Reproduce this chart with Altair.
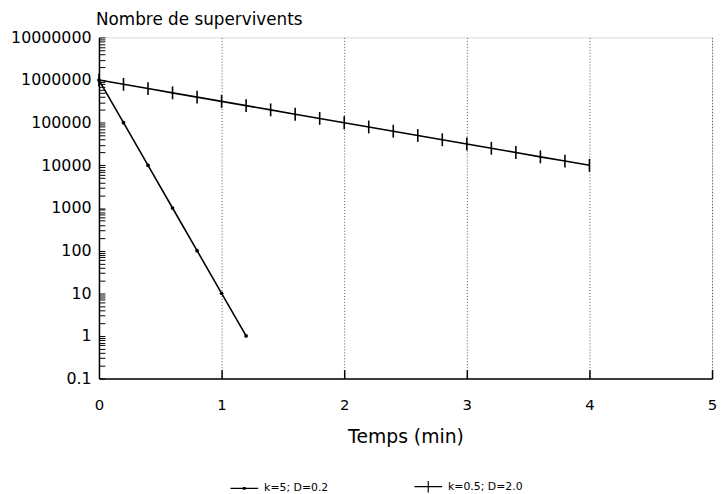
import altair as alt
import pandas as pd

# ---- data ----
serie_names = ["k=5; D=0.2", "k=0.5; D=2.0"]

t1 = [0.0, 0.2, 0.4, 0.6, 0.8, 1.0, 1.2]
n1 = [1000000, 100000, 10000, 1000, 100, 10, 1]

t2 = [0.0, 0.2, 0.4, 0.6, 0.8, 1.0, 1.2, 1.4, 1.6, 1.8, 2.0,
      2.2, 2.4, 2.6, 2.8, 3.0, 3.2, 3.4, 3.6, 3.8, 4.0]
n2 = [1000000, 794000, 631000, 501000, 398000, 316000, 251000, 200000,
      158000, 126000, 100000, 79400, 63100, 50100, 39800, 31600,
      25100, 20000, 15800, 12600, 10000]

x_ticks = [0, 1, 2, 3, 4, 5]
y_decades = [0.1, 1, 10, 100, 1000, 10000, 100000, 1000000, 10000000]
y_minor = [d * m for d in y_decades[:-1] for m in range(1, 10)] + [10000000]

df = pd.DataFrame({
    "t": t1 + t2,
    "n": n1 + n2,
    "serie": [serie_names[0]] * len(t1) + [serie_names[1]] * len(t2),
})

FONT = "DejaVu Sans"
W, H = 620, 345

xscale = alt.Scale(domain=[0, 5], nice=False, zero=False)
yscale = alt.Scale(type="log", domain=[0.1, 10000000], nice=False)

main_x = alt.X("t:Q", scale=xscale, axis=alt.Axis(
    values=x_ticks, format="d", title="Temps (min)", grid=True,
    gridDash=[1, 2], gridColor="#555555", gridWidth=1, ticks=False,
    domainColor="black", domainWidth=1.5, labelFont=FONT, labelFontSize=15,
    labelColor="black", labelPadding=19, titleFont=FONT, titleFontSize=19,
    titleFontWeight="normal", titleColor="black", titlePadding=16,
    labelFlush=False))
main_y = alt.Y("n:Q", scale=yscale, axis=alt.Axis(
    values=y_decades, title=None, grid=False, ticks=False,
    labelExpr="datum.value >= 1 ? format(datum.value, 'd') : '0.1'",
    domainColor="black", domainWidth=1.5, labelFont=FONT, labelFontSize=16,
    labelColor="black", labelPadding=8, labelFlush=False))

tick_x = alt.X("t:Q", scale=xscale, axis=alt.Axis(
    orient="top", offset=-H, values=[1, 2, 3, 4, 5], labels=False,
    domain=False, grid=False, ticks=True, tickSize=9, tickWidth=1.5,
    tickColor="black", title=None))
tick_y = alt.Y("n:Q", scale=yscale, axis=alt.Axis(
    orient="right", offset=-W, values=y_minor, labels=False,
    domain=False, grid=False, ticks=True, tickSize=6, tickWidth=1,
    tickColor="black", title=None))

base = alt.Chart(df)

lines = base.mark_line(color="black", strokeWidth=1.6).encode(
    x=main_x, y=main_y, detail="serie:N")

pts1 = base.transform_filter(alt.datum.serie == serie_names[0]).mark_circle(
    size=14, color="black", opacity=1).encode(
    x=alt.X("t:Q", scale=xscale, axis=None),
    y=alt.Y("n:Q", scale=yscale, axis=None))

pts2 = base.transform_filter(alt.datum.serie == serie_names[1]).mark_point(
    shape="M0,-1L0,1", size=169, color="black", strokeWidth=1.6,
    opacity=1).encode(x=tick_x, y=tick_y)

legend_shapes = [
    "M-1,0L1,0M-0.06,-0.06L0.06,-0.06L0.06,0.06L-0.06,0.06Z",
    "M-1,0L1,0M0,-0.42L0,0.42",
]
legend_layer = base.transform_filter("false").mark_point(
    color="black", filled=False, strokeWidth=1.2, opacity=1).encode(
    shape=alt.Shape("serie:N",
                    scale=alt.Scale(domain=serie_names, range=legend_shapes),
                    legend=alt.Legend(
                        orient="none", legendX=132, legendY=439,
                        direction="horizontal", columns=2, title=None,
                        symbolSize=784, symbolStrokeWidth=1.2,
                        symbolStrokeColor="black", symbolOpacity=1,
                        labelFont=FONT, labelFontSize=11, labelColor="black",
                        labelOffset=5, columnPadding=84)))

chart = alt.layer(lines, pts1, pts2, legend_layer).resolve_axis(
    x="independent", y="independent"
).properties(
    width=W, height=H,
    padding={"left": 92, "top": 27, "right": 5, "bottom": 114},
    autosize=alt.AutoSizeParams(type="none"),
    title=alt.TitleParams("Nombre de supervivents", anchor="start",
                          frame="group", font=FONT, fontSize=17,
                          fontWeight="normal", color="black", offset=1,
                          dx=-3),
).configure_view(stroke=None).configure(background="white")

chart.save("out.html", embed_options={"renderer": "svg", "actions": False})
